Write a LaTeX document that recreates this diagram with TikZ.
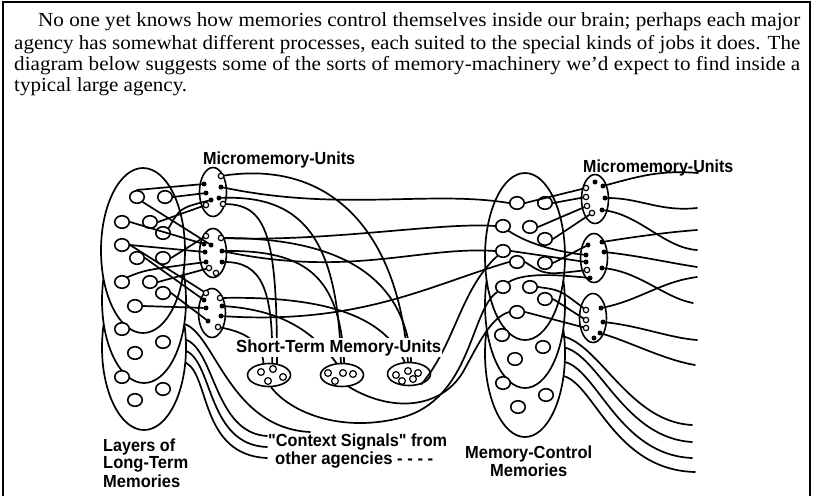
\documentclass[tikz,border=0pt]{standalone}
\usepackage{fontspec}
\usepackage{graphicx}
\setmainfont{Liberation Serif}
\newfontfamily\labfont{Liberation Sans}
\usetikzlibrary{shapes.geometric}
\tikzset{
  wire/.style={line width=1.7pt, line cap=round, line join=round},
  layer/.style={ellipse, draw, fill=white, line width=1.7pt, inner sep=0pt},
  memc/.style={ellipse, draw, fill=white, line width=1.6pt, inner sep=0pt, minimum width=14.5pt, minimum height=12.5pt},
  micro/.style={ellipse, draw, fill=white, line width=1.6pt, inner sep=0pt, minimum width=27pt, minimum height=49pt},
  stu/.style={ellipse, draw, fill=white, line width=1.6pt, inner sep=0pt, minimum width=43pt, minimum height=23pt},
  dotf/.style={circle, fill=black, inner sep=0pt, minimum size=5pt},
  doth/.style={circle, draw, fill=white, line width=1.2pt, inner sep=0pt, minimum size=5.4pt},
  sdot/.style={circle, draw, fill=white, line width=1.2pt, inner sep=0pt, minimum size=6.8pt},
  body/.style={anchor=base west, inner sep=0pt, font=\fontsize{20}{24}\selectfont},
  lab/.style={anchor=base west, inner sep=0pt, font=\labfont\bfseries\fontsize{17.5}{20}\selectfont},
  frameline/.style={line width=1.6pt}
}
\begin{document}
\begin{tikzpicture}[x=1pt,y=-1pt]
\useasboundingbox (0,0) rectangle (817,496);
% frame
\coordinate (f1) at (3,496); \coordinate (f2) at (3,2);
\coordinate (f3) at (810,2); \coordinate (f4) at (810,496);
\draw[frameline] (f1) -- (f2) -- (f3) -- (f4);
% body text
\node[body] (t1) at (38,26) {\resizebox{762pt}{\height}{No one yet knows how memories control themselves inside our brain; perhaps each major}};
\node[body] (t2) at (14,49) {\resizebox{786pt}{\height}{agency has somewhat different processes, each suited to the special kinds of jobs it does. The}};
\node[body] (t3) at (14,70) {\resizebox{786pt}{\height}{diagram below suggests some of the sorts of memory-machinery we'd expect to find inside a}};
\node[body] (t4) at (14,91) {\resizebox{173pt}{\height}{typical large agency.}};

% left layers
\node[layer, minimum width=84pt, minimum height=165pt] (LT3) at (144,347.5) {};
\node[layer, minimum width=84pt, minimum height=165pt] (LT2) at (144,300.5) {};
\node[layer, minimum width=84pt, minimum height=165pt] (LT1) at (143,250.5) {};
% right layers
\node[layer, minimum width=80pt, minimum height=167pt] (RT3) at (525,353.5) {};
\node[layer, minimum width=80pt, minimum height=167pt] (RT2) at (525,304.5) {};
\node[layer, minimum width=80pt, minimum height=167pt] (RT1) at (525,256.5) {};

% left memory circles
\foreach \n/\x/\y in {L1/137/197,L2/165/197,L3/122/222,L4/150/222,L5/163/233,L6/122/245,L7/137/258,L8/163/258,L9/122/282,L10/150/282,L11/163/293,L12/135/306,L13/122/329,L14/163/342,L15/135/353,L16/122/377,L17/163/389,L18/135/400}
  \node[memc] (\n) at (\x,\y) {};
% right memory circles
\foreach \n/\x/\y in {R1/517/203,R2/545/203,R3/503/226,R4/530/227,R5/545/239,R6/503/251,R7/517/262,R8/545/263,R9/503/287,R10/530/287,R11/545/299,R12/517/312,R13/502/335,R14/543/347,R15/515/359,R16/503/383,R17/546/395,R18/518/407}
  \node[memc] (\n) at (\x,\y) {};

% micromemory units
\node[micro] (ML1) at (213,192) {};
\node[micro] (ML2) at (213,253) {};
\node[micro] (ML3) at (212,313) {};
\node[micro] (MR1) at (595,199) {};
\node[micro] (MR2) at (594,258) {};
\node[micro] (MR3) at (593,318) {};

% dots in left units
\node[dotf] (m1a) at (204,184) {}; \node[dotf] (m1b) at (206,193) {};
\node[doth] (m1c) at (206,205) {}; \node[dotf] (m1d) at (211,200) {};
\node[doth] (m1p) at (221,176) {}; \node[dotf] (m1q) at (221,187) {};
\node[dotf] (m1r) at (219,198) {}; \node[doth] (m1s) at (223,204) {};
\node[dotf] (m2a) at (204,244) {}; \node[doth] (m2b) at (206,236) {};
\node[dotf] (m2c) at (205,252) {}; \node[dotf] (m2d) at (206,262) {};
\node[doth] (m2e) at (209,268) {}; \node[dotf] (m2f) at (211,245) {};
\node[doth] (m2p) at (221,238) {}; \node[dotf] (m2q) at (222,251) {};
\node[dotf] (m2r) at (222,262) {}; \node[doth] (m2x) at (216,273) {};
\node[dotf] (m3a) at (204,300) {}; \node[doth] (m3b) at (206,293) {};
\node[dotf] (m3c) at (206,308) {}; \node[dotf] (m3d) at (208,321) {};
\node[doth] (m3p) at (220,298) {}; \node[dotf] (m3q) at (222,306) {};
\node[dotf] (m3r) at (221,316) {}; \node[doth] (m3s) at (218,327) {};
% dots in right units
\node[doth] (n1a) at (586,188) {}; \node[doth] (n1b) at (586,197) {};
\node[doth] (n1c) at (587,206) {}; \node[doth] (n1d) at (592,213) {};
\node[dotf] (n1e) at (595,182) {}; \node[dotf] (n1p) at (603,186) {};
\node[dotf] (n1q) at (605,198) {}; \node[dotf] (n1r) at (602,210) {};
\node[dotf] (n2a) at (586,255) {}; \node[dotf] (n2b) at (586,262) {};
\node[doth] (n2c) at (587,270) {}; \node[dotf] (n2d) at (588,245) {};
\node[dotf] (n2e) at (590,278) {}; \node[dotf] (n2p) at (602,242) {};
\node[dotf] (n2q) at (604,252) {}; \node[dotf] (n2r) at (602,268) {};
\node[doth] (n3a) at (586,310) {}; \node[doth] (n3b) at (586,320) {};
\node[doth] (n3c) at (586,328) {}; \node[dotf] (n3p) at (601,308) {};
\node[dotf] (n3q) at (603,322) {}; \node[dotf] (n3r) at (600,333) {};
\node[dotf] (n3x) at (594,338) {};

% short-term memory units
\node[stu] (ST1) at (269,375) {};
\node[stu] (ST2) at (342,375) {};
\node[stu] (ST3) at (409,374) {};
\foreach \n/\x/\y in {s1a/261/372,s1b/273/369,s1c/283/377,s1d/268/381,s2a/328/373,s2b/343/373,s2c/353/374,s2d/335/381,s3a/396/375,s3b/408/371,s3c/418/373,s3d/402/381,s3e/413/379}
  \node[sdot] (\n) at (\x,\y) {};

% left circles -> left micromemory units
\draw[wire] (L1.north) -- (m1a);
\draw[wire] (L2.east) -- (m1b);
\draw[wire] (L4.east) -- (m1c);
\draw[wire] (L5.north east) .. controls (180,208) .. (m1d);
\draw[wire] (L1.south east) -- (m2f);
\draw[wire] (L3.east) -- (m2a);
\draw[wire] (L6.east) -- (m2c);
\draw[wire] (L6.east) -- (m3b);
\draw[wire] (L7.east) -- (m3a);
\draw[wire] (L8.east) -- (m2b);
\draw[wire] (L9.north east) .. controls (145,270) .. (m2d);
\draw[wire] (L10.east) -- (m2e);
\draw[wire] (L11.east) -- (m3d);
\draw[wire] (L12.east) -- (m3c);

% left units -> right cluster
\draw[wire] (m1q) .. controls (340,212) and (430,190) .. (R1.west);
\draw[wire] (m2p) .. controls (330,242) and (440,222) .. (R3.west);
\draw[wire] (m2q) .. controls (350,278) and (420,246) .. (R6.west);
\draw[wire] (m3r) .. controls (360,325) and (430,285) .. (R7.west);

% left units -> short-term units
\draw[wire] (m1p) .. controls (330,160) and (398,230) .. (ST3.95);
\draw[wire] (m1r) .. controls (300,195) and (338,235) .. (ST2.95);
\draw[wire] (m1s) .. controls (268,205) and (277,240) .. (ST1.55);
\draw[wire] (m2p) .. controls (330,238) and (405,270) .. (ST3.80);
\draw[wire] (m2q) .. controls (305,250) and (340,275) .. (ST2.80);
\draw[wire] (m2r) .. controls (262,262) and (273,290) .. (ST1.75);
\draw[wire] (m3p) .. controls (330,296) and (385,318) .. (ST3.110);
\draw[wire] (m3q) .. controls (280,310) and (312,330) .. (ST2.115);
\draw[wire] (m3s) .. controls (250,333) and (262,345) .. (ST1.115);

% right cluster -> short-term units
\coordinate (w2m) at (463,372);
\coordinate (w3m) at (400,418);
\draw[wire] (R6.south west) .. controls (460,290) and (455,345) .. (ST3.-40);
\draw[wire] (ST2.-60) .. controls (390,412) and (440,410) .. (w2m) .. controls (478,345) and (490,318) .. (R12.west);
\draw[wire] (R9.south west) .. controls (470,310) and (472,400) .. (w3m) .. controls (340,433) and (290,412) .. (ST1.-80);

% right circles -> right micromemory units
\draw[wire] (R1.east) -- (n1a);
\draw[wire] (R2.east) -- (n1b);
\draw[wire] (R4.east) -- (n1c);
\draw[wire] (R5.east) -- (n1d);
\draw[wire] (R3.south east) .. controls (530,245) and (560,252) .. (n2a);
\draw[wire] (R6.east) -- (n2b);
\draw[wire] (R7.east) .. controls (545,275) .. (n2c);
\draw[wire] (R8.east) -- (n2d);
\draw[wire] (R9.north east) .. controls (525,272) and (560,275) .. (n2e);
\draw[wire] (R10.east) .. controls (560,290) .. (n3a);
\draw[wire] (R11.east) -- (n3b);
\draw[wire] (R12.east) -- (n3c);

% right units -> free ends
\coordinate (e1) at (698,173); \coordinate (e2) at (697,208);
\coordinate (e3) at (697,250); \coordinate (e4) at (697,230);
\coordinate (e5) at (697,267); \coordinate (e6) at (693,303);
\coordinate (e7) at (697,277); \coordinate (e8) at (697,340);
\coordinate (e9) at (695,365);
\draw[wire] (n1p) .. controls (640,176) and (660,170) .. (e1);
\draw[wire] (n1q) .. controls (640,198) and (660,212) .. (e2);
\draw[wire] (n1r) .. controls (640,215) and (665,248) .. (e3);
\draw[wire] (n2p) .. controls (640,236) and (670,232) .. (e4);
\draw[wire] (n2q) .. controls (640,256) and (665,262) .. (e5);
\draw[wire] (n2r) .. controls (640,272) and (665,298) .. (e6);
\draw[wire] (n3p) .. controls (640,300) and (660,282) .. (e7);
\draw[wire] (n3q) .. controls (640,326) and (670,338) .. (e8);
\draw[wire] (n3r) .. controls (630,342) and (665,360) .. (e9);

% context signals, left
\coordinate (k1) at (310,432); \coordinate (k2) at (267,436);
\coordinate (k3) at (267,447); \coordinate (k4) at (267,458);
\draw[wire] (LT2.-30) .. controls (215,335) and (230,428) .. (k1);
\draw[wire] (LT3.10) .. controls (215,352) and (215,433) .. (k2);
\draw[wire] (LT3.-5) .. controls (213,364) and (208,445) .. (k3);
\draw[wire] (LT3.-20) .. controls (210,376) and (200,455) .. (k4);
% context signals, right
\coordinate (q1) at (692,425); \coordinate (q2) at (692,442);
\coordinate (q3) at (692,458); \coordinate (q4) at (695,472);
\draw[wire] (RT2.-40) .. controls (600,345) and (630,422) .. (q1);
\draw[wire] (RT3.8) .. controls (600,358) and (625,438) .. (q2);
\draw[wire] (RT3.-12) .. controls (598,372) and (620,455) .. (q3);
\draw[wire] (RT3.-30) .. controls (595,386) and (615,470) .. (q4);

% labels
\node[lab] (lmu) at (203,164) {\resizebox{152pt}{\height}{Micromemory-Units}};
\node[lab] (rmu) at (583,172) {\resizebox{150pt}{\height}{Micromemory-Units}};
\node[lab, fill=white, inner sep=1pt] (lst) at (235,352) {\resizebox{205pt}{\height}{Short-Term Memory-Units}};
\node[lab] (lcs1) at (268,446) {\resizebox{179pt}{\height}{"Context Signals" from}};
\node[lab] (lcs2) at (275,464) {\resizebox{158pt}{\height}{other agencies - - - -}};
\node[lab] (ll1) at (103,451) {\resizebox{72pt}{\height}{Layers of}};
\node[lab] (ll2) at (103,468.5) {\resizebox{85pt}{\height}{Long-Term}};
\node[lab] (ll3) at (103,487) {\resizebox{77pt}{\height}{Memories}};
\node[lab] (lm1) at (465,458) {\resizebox{127pt}{\height}{Memory-Control}};
\node[lab] (lm2) at (490,476) {\resizebox{77pt}{\height}{Memories}};
\end{tikzpicture}
\end{document}
